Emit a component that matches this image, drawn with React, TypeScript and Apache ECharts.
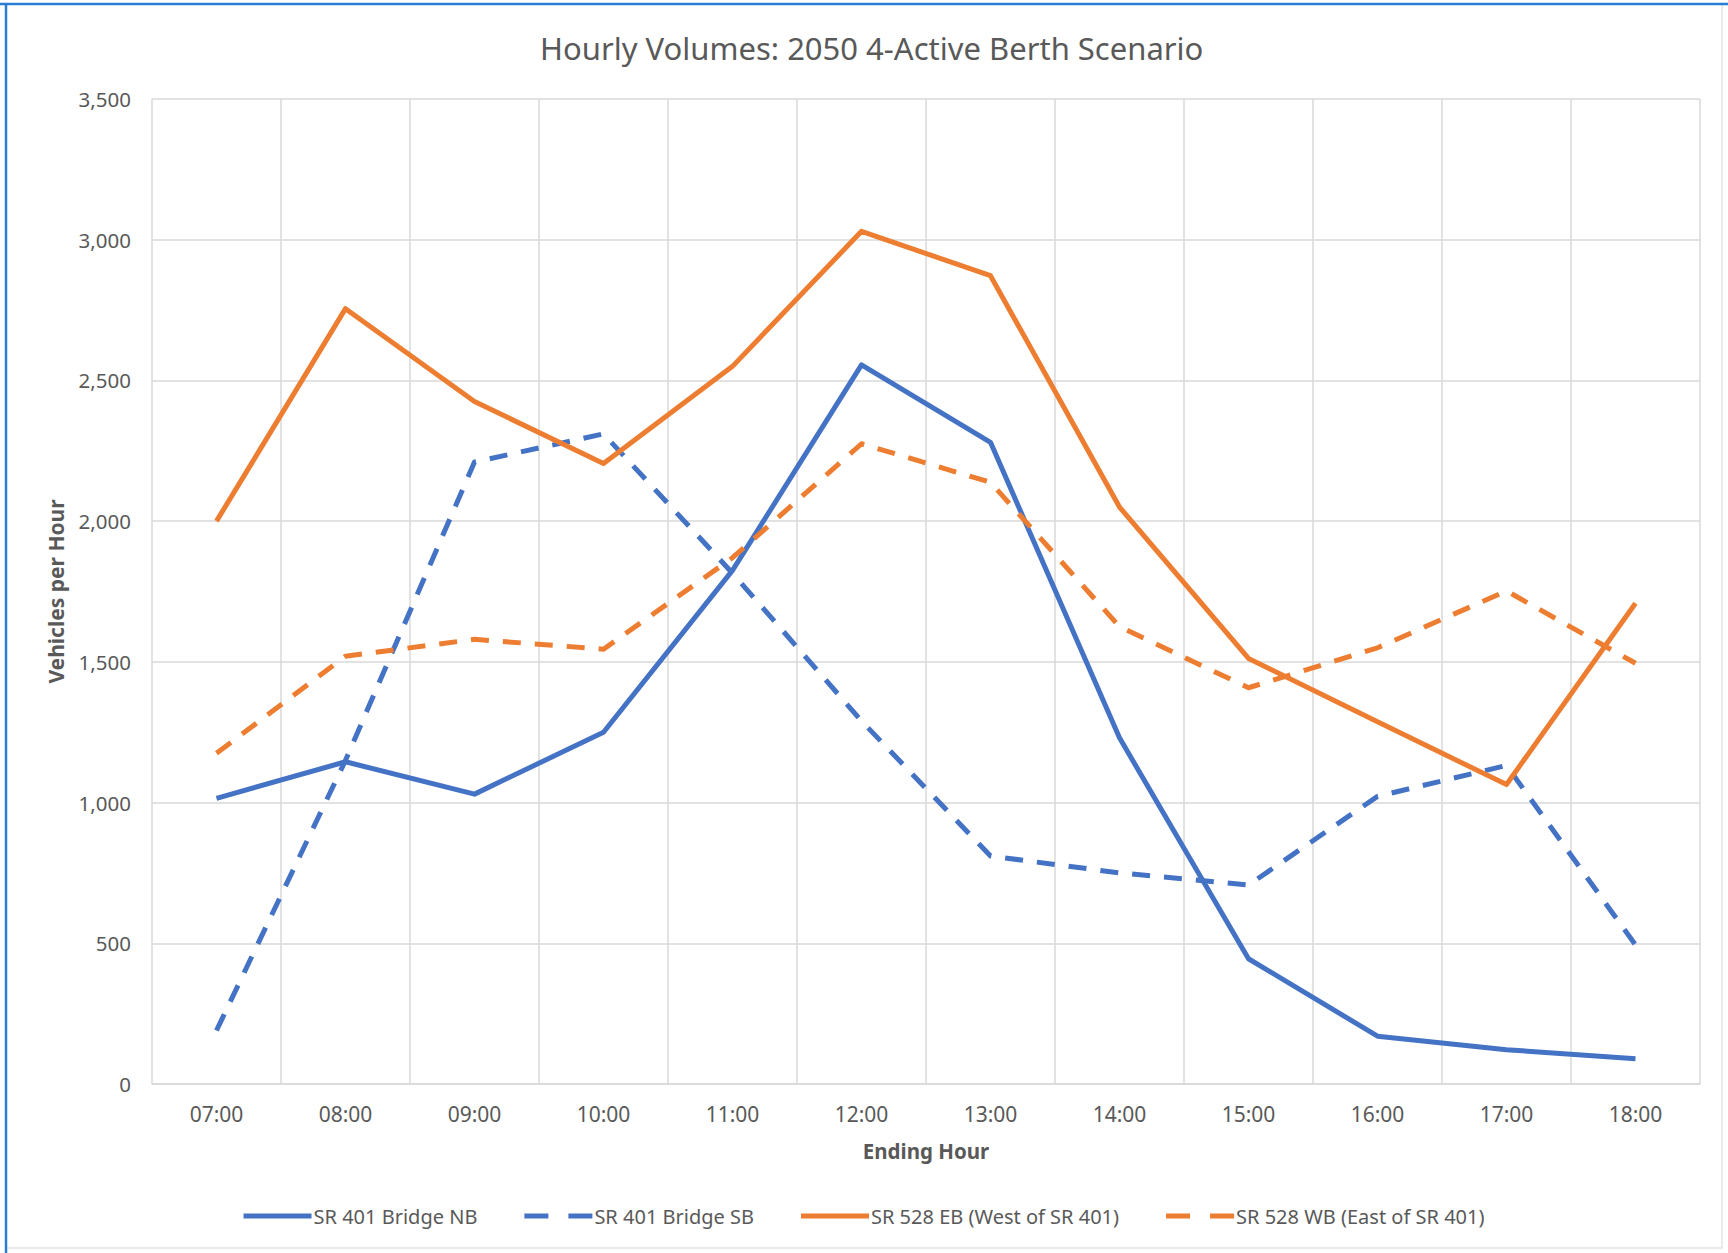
import React, { useEffect, useRef } from "react";
import * as echarts from "echarts";

// Ending hour of each count period
const hours = ["07:00", "08:00", "09:00", "10:00", "11:00", "12:00", "13:00", "14:00", "15:00", "16:00", "17:00", "18:00"];

// Hourly vehicle volumes per direction
const sr401NB = [1015, 1145, 1030, 1250, 1825, 2555, 2280, 1230, 445, 170, 122, 90];
const sr401SB = [190, 1150, 2210, 2310, 1815, 1290, 810, 750, 707, 1022, 1132, 494];
const sr528EB = [2000, 2755, 2425, 2205, 2550, 3030, 2872, 2050, 1512, 1287, 1064, 1708];
const sr528WB = [1175, 1520, 1580, 1545, 1870, 2275, 2138, 1625, 1408, 1550, 1752, 1495];

const seriesNames = [
  "SR 401 Bridge NB",
  "SR 401 Bridge SB",
  "SR 528 EB (West of SR 401)",
  "SR 528 WB (East of SR 401)",
];

const BLUE = "#4472C4";
const ORANGE = "#ED7D31";
const GRID = "#D9D9D9";
const TEXT = "#595959";
const FONT = "Noto Sans";

// Legend keys: a solid bar and a two-dash bar
const SOLID_KEY = "path://M0,0H68V5H0Z";
const DASH_KEY = "path://M0,0H24V5H0Z M44,0H68V5H44Z";

export default function App() {
  const ref = useRef<HTMLDivElement>(null);

  useEffect(() => {
    if (!ref.current) return;
    const chart = echarts.init(ref.current, undefined, { renderer: "svg" });

    const dash = [18, 14];
    const makeSeries = (name: string, data: number[], color: string, dashed: boolean) => ({
      name,
      type: "line",
      data,
      symbol: "none",
      smooth: false,
      color,
      lineStyle: {
        color,
        width: 5,
        type: dashed ? dash : "solid",
        cap: "butt",
        join: "round",
      },
    });

    chart.setOption({
      animation: false,
      backgroundColor: "#ffffff",
      textStyle: { fontFamily: FONT },
      title: {
        text: "Hourly Volumes: 2050 4-Active Berth Scenario",
        left: 535,
        top: 27,
        textStyle: { fontFamily: FONT, fontSize: 31, fontWeight: "normal", color: TEXT },
      },
      grid: { left: 152, right: 28, top: 99, bottom: 169, containLabel: false },
      xAxis: {
        type: "category",
        data: hours,
        boundaryGap: true,
        name: "Ending Hour",
        nameLocation: "middle",
        nameGap: 56,
        nameTextStyle: { fontFamily: FONT, fontSize: 20.5, fontWeight: "bold", color: TEXT },
        axisLine: { show: true, lineStyle: { color: GRID, width: 1.5 } },
        axisTick: { show: false },
        axisLabel: { color: TEXT, fontSize: 21, margin: 19, fontFamily: FONT },
        splitLine: { show: true, lineStyle: { color: GRID, width: 1.5 } },
      },
      yAxis: {
        type: "value",
        min: 0,
        max: 3500,
        interval: 500,
        name: "Vehicles per Hour",
        nameLocation: "middle",
        nameGap: 86,
        nameTextStyle: { fontFamily: FONT, fontSize: 21, fontWeight: "bold", color: TEXT },
        axisLine: { show: false },
        axisTick: { show: false },
        axisLabel: {
          color: TEXT,
          fontSize: 20.5,
          margin: 21,
          fontFamily: FONT,
          formatter: (v: number) => v.toLocaleString("en-US"),
        },
        splitLine: { show: true, lineStyle: { color: GRID, width: 1.5 } },
      },
      legend: {
        data: [
          { name: seriesNames[0], icon: SOLID_KEY },
          { name: seriesNames[1], icon: DASH_KEY },
          { name: seriesNames[2], icon: SOLID_KEY },
          { name: seriesNames[3], icon: DASH_KEY },
        ],
        bottom: 22,
        left: "center",
        itemWidth: 68,
        itemHeight: 5,
        itemGap: 47,
        textStyle: { color: TEXT, fontSize: 20, fontFamily: FONT, padding: [0, 0, 0, -3] },
      },
      graphic: [
        {
          type: "rect",
          shape: { x: 6, y: 4, width: 1716, height: 1244 },
          style: { fill: "none", stroke: "#E3E3E3", lineWidth: 1.5 },
          silent: true,
        },
        {
          type: "line",
          shape: { x1: 0, y1: 4, x2: 1728, y2: 4 },
          style: { stroke: "#2B7CD3", lineWidth: 2.5 },
          silent: true,
        },
        {
          type: "line",
          shape: { x1: 6, y1: 4, x2: 6, y2: 1253 },
          style: { stroke: "#2B7CD3", lineWidth: 2.5 },
          silent: true,
        },
      ],
      series: [
        makeSeries(seriesNames[0], sr401NB, BLUE, false),
        makeSeries(seriesNames[1], sr401SB, BLUE, true),
        makeSeries(seriesNames[2], sr528EB, ORANGE, false),
        makeSeries(seriesNames[3], sr528WB, ORANGE, true),
      ],
    });

    return () => chart.dispose();
  }, []);

  return (
    <div
      ref={ref}
      style={{ position: "fixed", left: 0, top: 0, width: 1728, height: 1253, background: "#fff" }}
    />
  );
}
